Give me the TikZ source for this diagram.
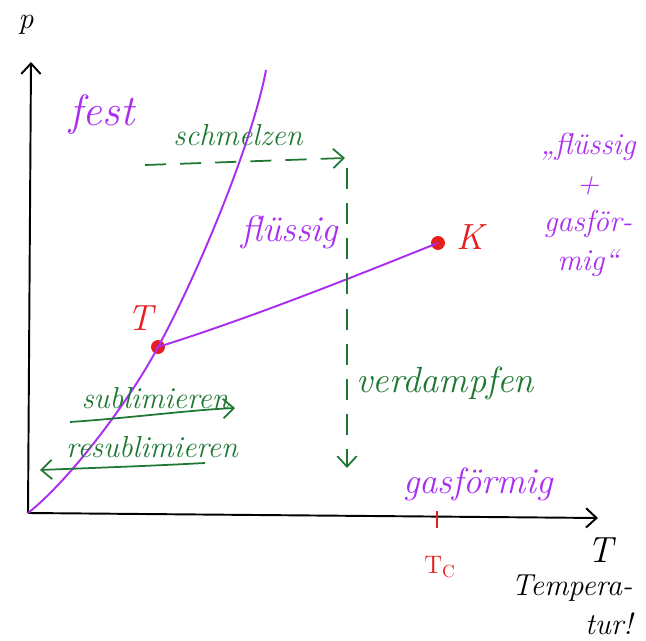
\documentclass[tikz,border=0pt]{standalone}
\usetikzlibrary{arrows.meta}
\definecolor{phpurple}{RGB}{170,45,240}
\definecolor{phgreen}{RGB}{30,120,50}
\definecolor{phred}{RGB}{230,30,30}
\begin{document}
\begin{tikzpicture}[x=0.02cm, y=-0.02cm, >={Straight Barb[length=6pt,width=11pt]},
    hand/.style={font=\itshape},
    phase/.style={phpurple, line width=1.1pt},
    proc/.style={phgreen, line width=1pt, ->},
    pt/.style={circle, fill=phred, inner sep=0pt, minimum size=14pt*0.567}]
    \useasboundingbox (0,0) rectangle (646,641);
    % axes
    \coordinate (O) at (28,513);
    \coordinate (ytop) at (31,62);
    \coordinate (xend) at (598,518);
    \draw[line width=1.1pt, ->] (O) -- (ytop);
    \draw[line width=1.1pt, ->] (O) -- (xend);
    \node[hand, font=\LARGE\itshape] (plbl) at (26,25) {p};
    \node[hand, font=\huge\itshape] (tlbl) at (600,550) {T};
    \node[hand, font=\LARGE\itshape, align=right] (temp) at (572,605) {Tempera-\\tur!};
    % points
    \node[pt] (tp) at (158,347) {};
    \node[pt] (kp) at (438,243) {};
    \node[hand, phred, font=\huge\itshape] (tpl) at (140,318) {T};
    \node[hand, phred, font=\huge\itshape] (kpl) at (470,237) {K};
    \coordinate (mtop) at (266,70);
    \draw[phase] (O) .. controls (70,480) and (130,400) .. (tp.center);
    \draw[phase] (tp.center) .. controls (195,280) and (252,145) .. (mtop);
    \draw[phase] (tp.center) .. controls (260,315) and (370,270) .. (kp.center);
    % critical temperature
    \coordinate (tca) at (437,511);
    \coordinate (tcb) at (437,528);
    \draw[phred, line width=1.3pt] (tca) -- (tcb);
    \node[phred, font=\Large] (tc) at (440,567) {$\mathrm{T}_\mathrm{C}$};
    % phases
    \node[hand, phpurple, font=\Huge\itshape] (fest) at (102,115) {fest};
    \node[hand, phpurple, font=\huge\itshape] (fl) at (290,232) {flüssig};
    \node[hand, phpurple, font=\huge\itshape] (gas) at (478,484) {gasförmig};
    \node[hand, phpurple, font=\LARGE\itshape, align=center] (flgas) at (588,205) {„flüssig\\+\\gasför-\\mig“};
    % processes
    \coordinate (sm0) at (145,165);
    \coordinate (sm1) at (345,158);
    \coordinate (vd0) at (347,168);
    \coordinate (vd1) at (347,468);
    \draw[proc, dashed, dash pattern=on 12pt off 8pt] (sm0) -- (sm1);
    \draw[proc, dashed, dash pattern=on 12pt off 8pt] (vd0) -- (vd1);
    \node[hand, phgreen, font=\LARGE\itshape] (schm) at (238,135) {schmelzen};
    \node[hand, phgreen, font=\huge\itshape] (verd) at (445,383) {verdampfen};
    \coordinate (su0) at (70,422);
    \coordinate (su1) at (235,408);
    \coordinate (re0) at (205,463);
    \coordinate (re1) at (40,470);
    \draw[proc] (su0) .. controls (130,418) and (190,410) .. (su1);
    \draw[proc] (re0) .. controls (150,466) and (90,468) .. (re1);
    \node[hand, phgreen, font=\LARGE\itshape] (subl) at (155,398) {sublimieren};
    \node[hand, phgreen, font=\LARGE\itshape] (resubl) at (152,447) {resublimieren};
\end{tikzpicture}
\end{document}
